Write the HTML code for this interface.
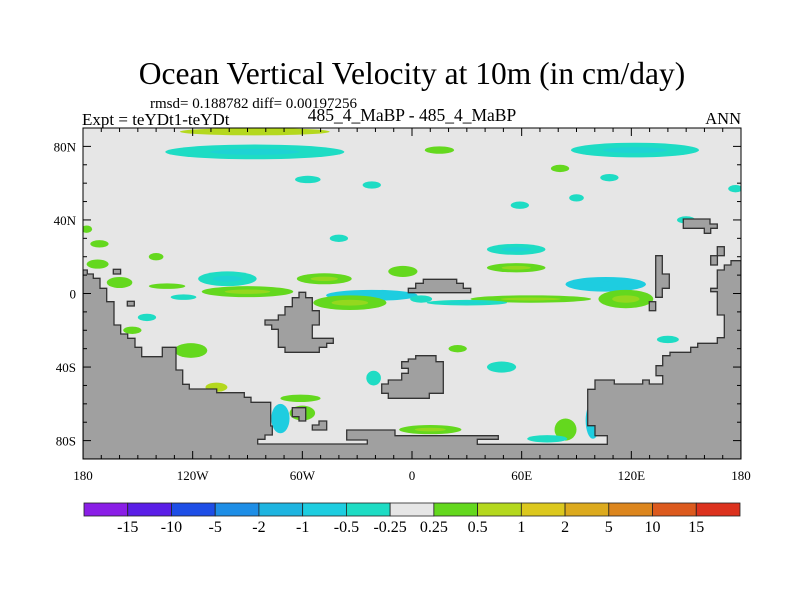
<!DOCTYPE html>
<html><head><meta charset="utf-8"><style>
body{margin:0;background:#fff}
svg{display:block;font-family:"Liberation Serif",serif}
</style></head><body>
<svg id="c" width="800" height="600" viewBox="0 0 800 600">
<rect width="800" height="600" fill="#fff"/>
<text x="412" y="84" font-size="31.5" text-anchor="middle">Ocean Vertical Velocity at 10m (in cm/day)</text>
<text x="150" y="108" font-size="15">rmsd= 0.188782 diff= 0.00197256</text>
<text x="82" y="125" font-size="17">Expt = teYDt1-teYDt</text>
<text x="412" y="121" font-size="17.5" text-anchor="middle">485_4_MaBP - 485_4_MaBP</text>
<text x="741" y="124" font-size="16.5" text-anchor="end">ANN</text>
<defs><clipPath id="pc"><rect x="83" y="128" width="658" height="331"/></clipPath></defs>
<rect x="83" y="128" width="658" height="331" fill="#e6e6e6"/>
<g id="blobs" clip-path="url(#pc)"></g>
<g id="land" fill="#a0a0a0" stroke="#333" stroke-width="1.3" clip-path="url(#pc)">
<polygon points="83,459 83,270 87.3,270 87.3,274 93.3,274 93.3,278.3 100,278.3 100,288.3 106.7,288.3 106.7,301.7 114,301.7 114,325 120.7,325 120.7,334 127.7,334 127.7,338.3 135,338.3 135,347.3 141.7,347.3 141.7,356.7 162.3,356.7 162.3,347.3 176,347.3 176,370 182.7,370 182.7,384.3 189.3,384.3 189.3,389 216.7,389 216.7,392.7 244.3,392.7 244.3,397.3 251,397.3 251,402.3 270.7,402.3 270.7,426 272.3,426 272.3,435 265,435 265,439.3 257.7,439.3 257.7,444 367.3,444 367.3,440 346.7,440 346.7,430 395,430 395,435.7 498.3,435.7 498.3,439.3 477.3,439.3 477.3,444.3 607.3,444.3 607.3,435.7 595,435.7 595,425.7 587.7,425.7 587.7,389.3 595,389.3 595,380 614.3,380 614.3,384 642.7,384 642.7,380 649.3,380 649.3,384 662.7,384 662.7,375.7 656,375.7 656,365.7 662.7,365.7 662.7,355.7 670,355.7 670,352.3 690.7,352.3 690.7,347.3 697.7,347.3 697.7,343.3 717.3,343.3 717.3,337.7 724.3,337.7 724.3,315 717.3,315 717.3,291.7 710.7,291.7 710.7,288.3 717.3,288.3 717.3,270 724.3,270 724.3,265 731,265 731,260.7 741,260.7 741,459"/>
<polygon points="265,320 278.3,320 278.3,315 285,315 285,306.7 292.3,306.7 292.3,297.7 299,297.7 299,292.3 305.7,292.3 305.7,297.7 312.3,297.7 312.3,310.7 319.3,310.7 319.3,325 312.3,325 312.3,338.3 333.3,338.3 333.3,343.3 326.7,343.3 326.7,347.3 319.3,347.3 319.3,352.3 285,352.3 285,347.3 278.3,347.3 278.3,329.3 271.7,329.3 271.7,325 265,325"/>
<polygon points="381.7,384 388.3,384 388.3,380 401.7,380 401.7,373.3 408.3,373.3 408.3,368.3 401.7,368.3 401.7,361.7 408.3,361.7 408.3,359 415.7,359 415.7,355.7 436,355.7 436,361.7 443.3,361.7 443.3,393.3 429.3,393.3 429.3,398.3 388.3,398.3 388.3,393.3 381.7,393.3"/>
<polygon points="408.3,288.3 415.7,288.3 415.7,283.3 423.3,283.3 423.3,279.3 456.7,279.3 456.7,283.3 463.3,283.3 463.3,288.3 470.7,288.3 470.7,292.7 408.3,292.7"/>
<polygon points="683.3,219 710,219 710,224 717.3,224 717.3,228.3 710.7,228.3 710.7,233.3 704.3,233.3 704.3,228.3 683.3,228.3"/>
<polygon points="655.7,255.7 662.3,255.7 662.3,274 669.3,274 669.3,288.3 662.3,288.3 662.3,297.3 655.7,297.3"/>
<rect x="649.3" y="301.7" width="6.4" height="9"/>
<rect x="710.7" y="255.7" width="6.7" height="9.3"/>
<rect x="717.3" y="246.7" width="7" height="9"/>
<rect x="113.3" y="269.3" width="7.3" height="4.7"/>
<rect x="127.3" y="301.3" width="7" height="4.7"/>
<polygon points="292.3,407.7 305.7,407.7 305.7,421 299,421 299,416.7 292.3,416.7"/>
<polygon points="319,421 326.7,421 326.7,430 312.3,430 312.3,425 319,425"/>
</g>
<g id="axes"></g>
<rect x="83" y="128" width="658" height="331" fill="none" stroke="#000" stroke-width="1"/>
<g id="cbar"></g>
</svg>
<script>
// blob data: lon, lat, half-width (deg lon), half-height (deg lat), colour level
const blobLon=[-86,-86,122,15,-57,81,108,-22,177,59,-171,-101,-90,-22,-34,57,57,106,117,65,30,99,84,10,74,-72,-61,-60,-107,-121,-21,49,-48,-160,-134,-125,-145,-153,-172,-5,5,-178,150,-140,-40,140,25,90];
const blobLat=[77,88,78,78,62,68,63,59,57,48,27,8,1,-1,-5,24,14,5,-3,-3,-5,-69,-74,-74,-79,-68,-57,-65,-51,-31,-46,-40,8,6,4,-2,-13,-20,16,12,-3,35,40,20,30,-25,-30,52];
const blobRx=[49,41,35,8,7,5,5,5,4,5,5,16,25,25,20,16,16,22,15,33,22,4,6,17,11,5,11,7,6,9,4,8,15,7,10,7,5,5,6,8,6,3,5,4,5,6,5,4];
const blobRy=[4,2,4,2,2,2,2,2,2,2,2,4,3,3,4,3,2.5,4,5,2,1.5,10,6,2.5,2,8,2,4,2.5,4,4,3,3,3,1.5,1.5,2,2,2.5,3,2,2,2,2,2,2,2,2];
const blobLvl=[6,9,6,8,6,8,6,6,6,6,8,6,8,5,8,6,8,5,8,8,6,5,8,8,6,5,8,8,9,8,6,6,8,8,8,6,6,8,8,8,6,8,6,8,6,6,8,6];
const cbColors=["#8a1ee6","#5a1ee6","#1e4ee6","#1e8ee6","#1eb4e0","#1ecde0","#1edcc4","#e6e6e6","#64d81e","#b4d81e","#dcc81e","#dcaa1e","#dc861e","#dc5a1e","#dc321e"];
const cbLabels=["-15","-10","-5","-2","-1","-0.5","-0.25","0.25","0.5","1","2","5","10","15"];
const lonTicks=[-180,-120,-60,0,60,120,180];
const lonLabels=["180","120W","60W","0","60E","120E","180"];
const latTicks=[80,40,0,-40,-80];
const latLabels=["80N","40N","0","40S","80S"];
const NS="http://www.w3.org/2000/svg";
const X=l=>83+(l+180)/360*658, Y=l=>128+(90-l)/180*331;
const sx=658/360, sy=331/180;
function mk(t,a,p){const e=document.createElementNS(NS,t);for(const k in a)e.setAttribute(k,a[k]);p.appendChild(e);return e;}
const gb=document.getElementById('blobs');
blobLon.forEach((lo,i)=>{
  const e=mk('ellipse',{cx:X(lo),cy:Y(blobLat[i]),rx:blobRx[i]*sx,ry:blobRy[i]*sy,fill:cbColors[blobLvl[i]]},gb);
  
  
  if(blobRx[i]>12){const f=mk('ellipse',{cx:X(lo),cy:Y(blobLat[i]),rx:blobRx[i]*sx*0.5,ry:blobRy[i]*sy*0.4,fill:blobLvl[i]<7?cbColors[5]:cbColors[9],opacity:0.6},gb);
  
  }
});
const ga=document.getElementById('axes');
for(let l=-180;l<=180;l+=10){const big=l%60===0;const x=X(l);
  mk('line',{x1:x,x2:x,y1:459,y2:459-(big?8:4),stroke:'#000'},ga);
  mk('line',{x1:x,x2:x,y1:128,y2:128+(big?8:4),stroke:'#000'},ga);}
for(let l=-90;l<=90;l+=10){const big=(l+80)%40===0&&Math.abs(l)!==90;const y=Y(l);
  mk('line',{x1:83,x2:83+(big?8:4),y1:y,y2:y,stroke:'#000'},ga);
  mk('line',{x1:741,x2:741-(big?8:4),y1:y,y2:y,stroke:'#000'},ga);}
lonTicks.forEach((l,i)=>{const t=mk('text',{x:X(l),y:480,'font-size':13,'text-anchor':'middle'},ga);t.textContent=lonLabels[i];
  
  });
latTicks.forEach((l,i)=>{const t=mk('text',{x:76,y:Y(l)+5,'font-size':13,'text-anchor':'end'},ga);t.textContent=latLabels[i];
  
  });
const gc=document.getElementById('cbar');
const w=656/cbColors.length;
cbColors.forEach((c,i)=>{const r=mk('rect',{x:84+i*w,y:503,width:w,height:13,fill:c,stroke:'#222','stroke-width':0.8},gc);
  
  });
cbLabels.forEach((s,i)=>{const t=mk('text',{x:84+(i+1)*w,y:532,'font-size':16,'text-anchor':'middle'},gc);t.textContent=s;
  
  });
</script>
</body></html>
